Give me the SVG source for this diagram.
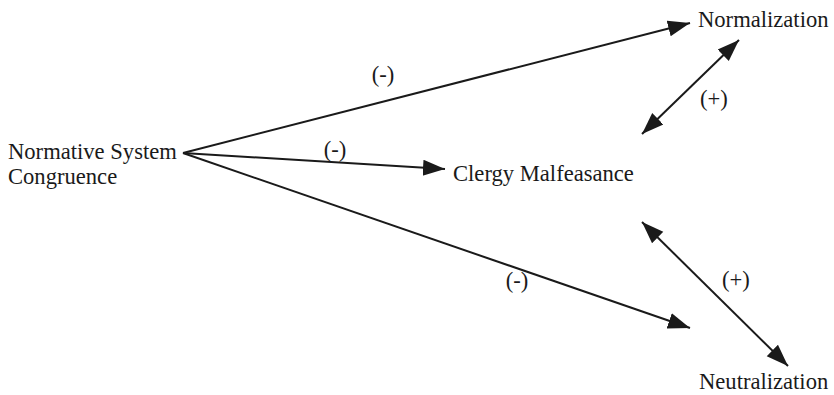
<svg xmlns="http://www.w3.org/2000/svg" width="834" height="395" viewBox="0 0 834 395">
<style>
text{font-family:"Liberation Serif","Times New Roman",serif;font-size:22.6px;fill:#1a1a1a}
.c{stroke:#1a1a1a;stroke-width:2;fill:none}
</style>
<defs>
<marker id="ah" markerUnits="userSpaceOnUse" markerWidth="24" markerHeight="18" refX="22" refY="8" orient="auto-start-reverse" viewBox="0 0 24 16">
<polygon points="0,0 22,8 0,16" fill="#1a1a1a"/>
</marker>
</defs>
<rect width="834" height="395" fill="#fff"/>
<g id="n-nsc"><text x="8" y="159">Normative System</text><text x="8" y="184">Congruence</text></g>
<g id="n-cm"><text x="453" y="181">Clergy Malfeasance</text></g>
<g id="n-norm"><text x="698" y="27">Normalization</text></g>
<g id="n-neut"><text x="699" y="389">Neutralization</text></g>
<g id="connectors">
<line class="c" x1="183" y1="153" x2="690" y2="23" marker-end="url(#ah)"/>
<line class="c" x1="183" y1="153" x2="445" y2="169" marker-end="url(#ah)"/>
<line class="c" x1="183" y1="153" x2="690" y2="328" marker-end="url(#ah)"/>
<line class="c" x1="642" y1="134" x2="739" y2="40" marker-start="url(#ah)" marker-end="url(#ah)"/>
<line class="c" x1="642" y1="222" x2="788" y2="366" marker-start="url(#ah)" marker-end="url(#ah)"/>
<text x="383" y="82" text-anchor="middle">(-)</text>
<text x="335" y="157" text-anchor="middle">(-)</text>
<text x="517" y="288" text-anchor="middle">(-)</text>
<text x="714" y="106" text-anchor="middle">(+)</text>
<text x="736" y="287" text-anchor="middle">(+)</text>
</g>
</svg>
